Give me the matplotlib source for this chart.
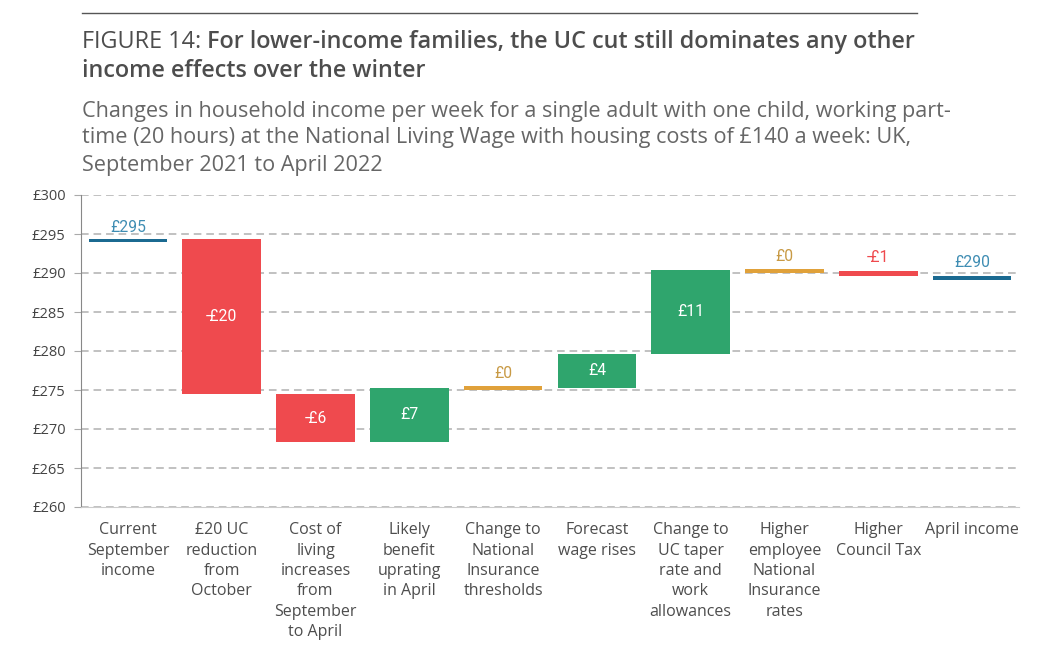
import matplotlib
matplotlib.use("Agg")
import matplotlib.pyplot as plt
import numpy as np

# ---- data ----
categories = ["Current\nSeptember\nincome", "£20 UC\nreduction\nfrom\nOctober",
              "Cost of\nliving\nincreases\nfrom\nSeptember\nto April",
              "Likely\nbenefit\nuprating\nin April", "Change to\nNational\nInsurance\nthresholds",
              "Forecast\nwage rises", "Change to\nUC taper\nrate and\nwork\nallowances",
              "Higher\nemployee\nNational\nInsurance\nrates", "Higher\nCouncil Tax", "April income"]
start_income = 294.4
changes = [-19.9, -6.2, 7.0, 0.0, 4.3, 10.8, -0.2, -0.6]
end_income = 289.6
value_labels = ["£295", "-£20", "-£6", "£7", "£0", "£4", "£11", "£0", "-£1", "£290"]
y_ticks = [260, 265, 270, 275, 280, 285, 290, 295, 300]

BLUE = "#1b6a91"
BLUE_T = "#3f8db3"
RED = "#ef4a4e"
GREEN = "#2fa56d"
ORANGE = "#e0a13a"
ORANGE_T = "#c89a45"
GRID = "#aaaaaa"
TXT = "#4d4d4d"

plt.rcParams['font.family'] = ['Open Sans', 'DejaVu Sans']
VAL_FONT = ['Roboto', 'DejaVu Sans']

fig = plt.figure(figsize=(10.56, 6.47), dpi=100)
ax = fig.add_axes([81/1056, 1-507/647, (1019-81)/1056, (507-195)/647])

x = np.arange(len(categories))
level_h = 0.45
zero_h = 0.5
w = 0.84
vfs = 11.3

# start level line
ax.bar(x[0], level_h, bottom=start_income - level_h, width=w, color=BLUE, zorder=3)
ax.text(x[0], start_income + 1.4, value_labels[0], ha='center', va='center',
        color=BLUE_T, fontsize=vfs, family=VAL_FONT, zorder=4)

level = start_income
for i, c in enumerate(changes):
    xi = x[i + 1]
    new = level + c
    lab = value_labels[i + 1]
    if abs(c) < 0.5:
        mid = (level + new) / 2
        ax.bar(xi, zero_h, bottom=mid - zero_h/2, width=w, color=ORANGE, zorder=3)
        ax.text(xi, mid + zero_h/2 + 1.6, lab, ha='center', va='center', color=ORANGE_T,
                fontsize=vfs, family=VAL_FONT, zorder=4)
    else:
        col = GREEN if c > 0 else RED
        ax.bar(xi, c, bottom=level, width=w, color=col, zorder=3)
        if abs(c) >= 2:
            ax.text(xi, (level + new) / 2, lab, ha='center', va='center', color='white',
                    fontsize=vfs, family=VAL_FONT, zorder=4)
        else:
            ax.text(xi, max(level, new) + 1.8, lab, ha='center', va='center', color=RED,
                    fontsize=vfs, family=VAL_FONT, zorder=4)
    level = new

# end level line
ax.bar(x[-1], level_h, bottom=end_income - level_h, width=w, color=BLUE, zorder=3)
ax.text(x[-1], end_income + 1.7, value_labels[-1], ha='center', va='center',
        color=BLUE_T, fontsize=vfs, family=VAL_FONT, zorder=4)

ax.set_xlim(-0.5, len(categories) - 0.5)
ax.set_ylim(260, 300)
ax.set_yticks(y_ticks)
ax.set_yticklabels([f"£{v}" for v in y_ticks], fontsize=10.5, color="#444444")
ax.set_xticks(x)
ax.set_xticklabels(categories, fontsize=11.5, color=TXT, linespacing=1.36)
ax.tick_params(axis='x', length=0, pad=11)
ax.tick_params(axis='y', length=5, color=GRID, pad=6)
ax.grid(axis='y', color="#b0b0b0", linestyle=(0, (5, 3.2)), linewidth=1.1, zorder=0)
for s in ['top', 'right']:
    ax.spines[s].set_visible(False)
ax.spines['left'].set_color('#888888')
ax.spines['bottom'].set_color('#cccccc')
ax.set_axisbelow(True)

# top rule
fig.add_artist(plt.Line2D([82/1056, 917/1056], [1-13/647, 1-13/647], color="#555555", linewidth=1.0))

# title
fig.canvas.draw()
renderer = fig.canvas.get_renderer()
tfs = 16.8
t1 = fig.text(82/1056, 1-42/647, "FIGURE 14: ", fontsize=tfs, color=TXT, va='center', ha='left')
bb = t1.get_window_extent(renderer)
fig.text(bb.x1/1056, 1-42/647, "For lower-income families, the UC cut still dominates any other",
         fontsize=tfs, color=TXT, fontweight='semibold', va='center', ha='left')
fig.text(82/1056, 1-71/647, "income effects over the winter", fontsize=tfs, color=TXT,
         fontweight='semibold', va='center', ha='left')

sub = ["Changes in household income per week for a single adult with one child, working part-",
       "time (20 hours) at the National Living Wage with housing costs of £140 a week: UK,",
       "September 2021 to April 2022"]
for i, s in enumerate(sub):
    fig.text(82/1056, 1-(111 + 27*i)/647, s, fontsize=15.6, color="#666666",
             va='center', ha='left')

fig.savefig("out.png", dpi=100)
